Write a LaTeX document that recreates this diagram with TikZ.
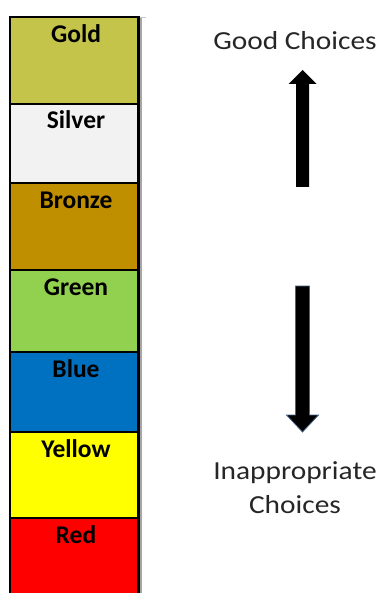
\documentclass[tikz,border=0pt]{standalone}
\usepackage{fontspec}
\setmainfont{Carlito}
\newfontfamily\rfont[FakeStretch=1.13]{Carlito}
\definecolor{cgold}{RGB}{196,196,74}
\definecolor{csilver}{RGB}{242,242,242}
\definecolor{cbronze}{RGB}{191,143,0}
\definecolor{cgreen}{RGB}{146,208,80}
\definecolor{cblue}{RGB}{0,112,192}
\definecolor{cyellow}{RGB}{255,255,0}
\definecolor{cred}{RGB}{255,0,0}
\definecolor{arrowedge}{RGB}{70,100,140}
\begin{document}
\begin{tikzpicture}[x=1pt,y=-1pt,
  band/.style={draw=black, line width=1.5pt, minimum width=128pt, inner sep=0pt, outer sep=0pt},
  bandlabel/.style={anchor=base, font=\fontsize{25.5}{28}\selectfont\bfseries, inner sep=0pt},
  sidetext/.style={font=\rfont\fontsize{26}{34}\selectfont, align=center, inner sep=0pt, text=black!85},
  blockarrow/.style={fill=black}
]
\useasboundingbox (0,0) rectangle (381,593);
% shadow lines
\draw[gray!70, line width=2pt] (140.5,17) -- (140.5,593);
\draw[gray!45, line width=1.2pt] (138,17.6) -- (146,17.6);
% bands
\node[band, fill=cgold,   minimum height=87pt] (gold)   at (74,60.5) {};
\node[band, fill=csilver, minimum height=79pt] (silver) at (74,143.5) {};
\node[band, fill=cbronze, minimum height=87pt] (bronze) at (74,226.5) {};
\node[band, fill=cgreen,  minimum height=82pt] (green)  at (74,311) {};
\node[band, fill=cblue,   minimum height=80pt] (blue)   at (74,392) {};
\node[band, fill=cyellow, minimum height=86pt] (yellow) at (74,475) {};
\node[band, fill=cred,    minimum height=80pt] (red)    at (74,558) {};
\fill[white] (0,593) rectangle (150,600);
% outer border
\draw[black, line width=2pt] (10,593) -- (10,17) -- (138.5,17) -- (138.5,593);
% labels
\node[bandlabel] (lgold)   at (76,43)  {Gold};
\node[bandlabel] (lsilver) at (76,129) {Silver};
\node[bandlabel] (lbronze) at (76,209) {Bronze};
\node[bandlabel] (lgreen)  at (76,295) {Green};
\node[bandlabel] (lblue)   at (76,377) {Blue};
\node[bandlabel] (lyellow) at (76,457) {Yellow};
\node[bandlabel] (lred)    at (76,543) {Red};
% side texts
\node[sidetext, anchor=base] (good) at (295,50) {Good Choices};
\node[sidetext, anchor=base] (bad)  at (295,513) {Inappropriate\\Choices};
% arrows
\fill[black] (302.5,70) -- (316.5,84) -- (309,84) -- (309,187) -- (296,187) -- (296,84) -- (288.5,84) -- cycle;
\filldraw[fill=black, draw=arrowedge, line width=0.8pt] (295.5,286) -- (309.5,286) -- (309.5,415) -- (318.5,415) -- (302.5,432) -- (286.5,415) -- (295.5,415) -- cycle;
\end{tikzpicture}
\end{document}
